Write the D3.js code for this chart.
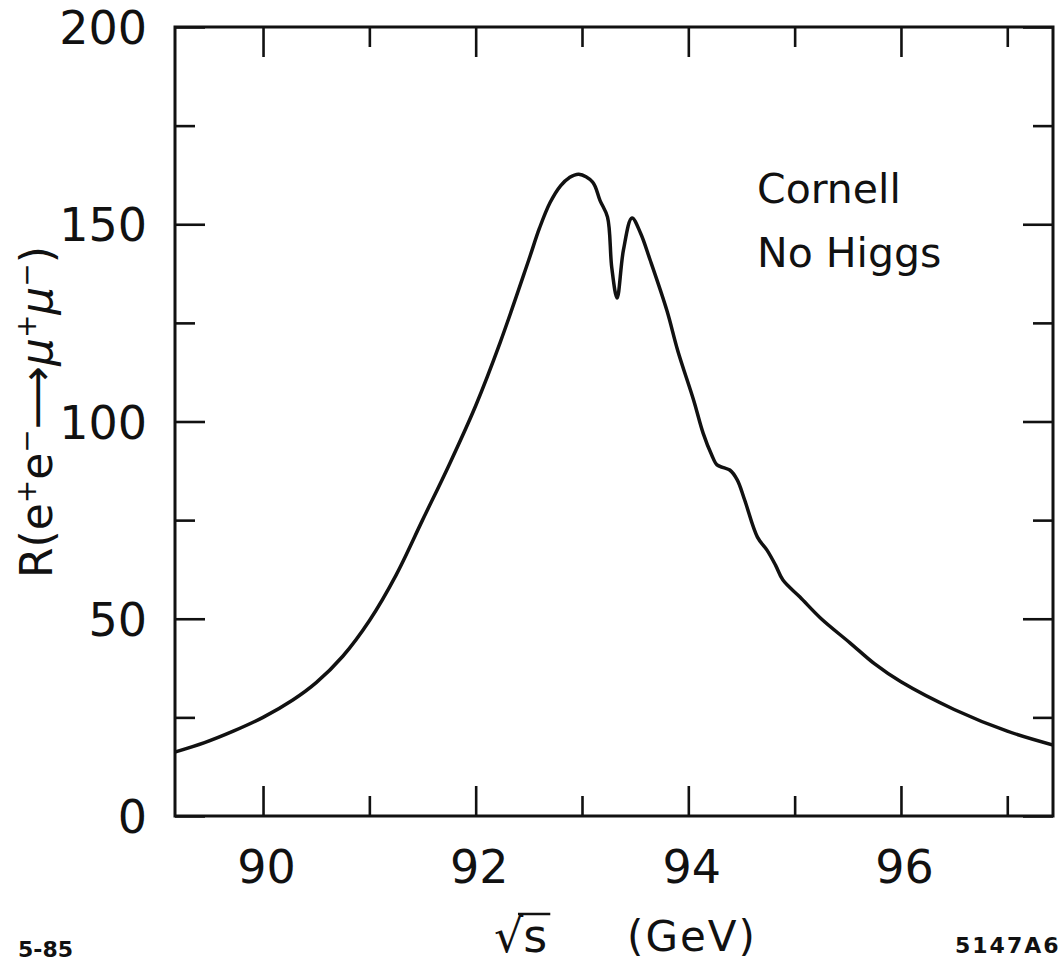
<!DOCTYPE html>
<html>
<head>
<meta charset="utf-8">
<script src="https://cdn.jsdelivr.net/npm/d3@7"></script>
<style>
  html, body { margin: 0; padding: 0; background: #fff; }
  svg { display: block; }
  text { font-family: "DejaVu Sans", "Liberation Sans", sans-serif; fill: #111; }
</style>
</head>
<body>
<script>
// sqrt(s) in GeV
var energy = [89.17, 89.45, 89.72, 90.0, 90.28, 90.5, 90.75, 91.0, 91.25, 91.5,
  91.75, 92.0, 92.23, 92.5, 92.6, 92.7, 92.8, 92.88, 92.97, 93.1,
  93.17, 93.24, 93.28, 93.33, 93.39, 93.47, 93.55, 93.64, 93.8, 93.9,
  94.05, 94.14, 94.22, 94.27, 94.33, 94.39, 94.46, 94.53, 94.65, 94.74,
  94.82, 94.89, 95.05, 95.25, 95.52, 95.75, 96.0, 96.5, 97.0, 97.43];
// R(e+e- -> mu+mu-)
var ratio = [16.2, 18.6, 21.5, 25, 29.4, 33.8, 40.5, 49.5, 61, 75,
  89, 104, 120, 141, 149, 155.5, 159.8, 161.8, 162.7, 160.7,
  156, 151.8, 139, 131.3, 143.5, 151.6, 147.8, 141, 128, 118,
  105.4, 97, 91.5, 89, 88.3, 87.7, 85.2, 80.1, 70.7, 67.4,
  63.6, 59.8, 55.5, 50, 43.9, 38.6, 34, 27, 21.5, 18];

// ticks
var xMajor = [90, 92, 94, 96];
var xMinor = [91, 93, 95, 97];
var yMajor = [0, 50, 100, 150, 200];
var yMinor = [25, 75, 125, 175];

var width = 1058, height = 963;
// plot box (note: "top" is taken by window.top)
var boxL = 175, boxR = 1053, boxT = 27, boxB = 816;

var svg = d3.select("body").append("svg")
  .attr("width", width)
  .attr("height", height);

svg.append("rect").attr("width", width).attr("height", height).attr("fill", "#fff");

var x = d3.scaleLinear().domain([89.172, 97.43]).range([boxL, boxR]);
var y = d3.scaleLinear().domain([0, 200]).range([boxB, boxT]);

// tick helper: inward ticks, no domain line
function ticks(axis, tr, vals, size, fmt) {
  var g = svg.append("g").attr("transform", tr)
    .call(axis.tickValues(vals).tickSize(-size).tickFormat(fmt || ""));
  g.select(".domain").remove();
  g.selectAll(".tick line").attr("stroke", "#111").attr("stroke-width", 2.6);
  return g;
}

var bx = ticks(d3.axisBottom(x), "translate(0," + boxB + ")", xMajor, 30, d3.format("d"));
ticks(d3.axisBottom(x), "translate(0," + boxB + ")", xMinor, 20);
ticks(d3.axisTop(x), "translate(0," + boxT + ")", xMajor, 30);
ticks(d3.axisTop(x), "translate(0," + boxT + ")", xMinor, 20);

var ly = ticks(d3.axisLeft(y), "translate(" + boxL + ",0)", yMajor, 30, d3.format("d"));
ticks(d3.axisLeft(y), "translate(" + boxL + ",0)", yMinor, 20);
ticks(d3.axisRight(y), "translate(" + boxR + ",0)", yMajor, 30);
ticks(d3.axisRight(y), "translate(" + boxR + ",0)", yMinor, 20);

bx.selectAll(".tick text")
  .attr("y", 67).attr("dy", null).attr("x", 3)
  .style("font-size", "46px").attr("fill", "#111");
ly.selectAll(".tick text")
  .attr("x", -28).attr("dy", "0.36em")
  .style("font-size", "46px").attr("fill", "#111");

// frame
svg.append("rect")
  .attr("x", boxL).attr("y", boxT)
  .attr("width", boxR - boxL).attr("height", boxB - boxT)
  .attr("fill", "none").attr("stroke", "#111").attr("stroke-width", 3);

// curve
svg.append("clipPath").attr("id", "plot")
  .append("rect").attr("x", boxL).attr("y", boxT)
  .attr("width", boxR - boxL).attr("height", boxB - boxT);

var line = d3.line()
  .x(function(d, i) { return x(energy[i]); })
  .y(function(d) { return y(d); })
  .curve(d3.curveCatmullRom.alpha(0.5));

svg.append("path")
  .datum(ratio)
  .attr("clip-path", "url(#plot)")
  .attr("d", line)
  .attr("fill", "none")
  .attr("stroke", "#111")
  .attr("stroke-width", 3.5)
  .attr("stroke-linejoin", "round");

// annotation
svg.append("text").attr("x", 757).attr("y", 203).style("font-size", "41px").text("Cornell");
svg.append("text").attr("x", 757).attr("y", 267).style("font-size", "41px").text("No Higgs");

// y title
var yt = svg.append("text")
  .attr("transform", "translate(52,412) rotate(-90)")
  .attr("text-anchor", "middle")
  .style("font-size", "44px");
yt.append("tspan").text("R(e");
yt.append("tspan").attr("dy", -16).style("font-size", "28px").text("+");
yt.append("tspan").attr("dy", 16).text("e");
yt.append("tspan").attr("dy", -16).style("font-size", "28px").text("\u2212");
yt.append("tspan").attr("dy", 16).text("\u27F6");
yt.append("tspan").style("font-style", "italic").text("\u03BC");
yt.append("tspan").attr("dy", -16).style("font-size", "28px").text("+");
yt.append("tspan").attr("dy", 16).style("font-style", "italic").text("\u03BC");
yt.append("tspan").attr("dy", -16).style("font-size", "28px").text("\u2212");
yt.append("tspan").attr("dy", 16).text(")");

// x title
var rs = svg.append("text").attr("x", 494).attr("y", 952).style("font-size", "46px");
rs.append("tspan").text("\u221A");
rs.append("tspan").text("s");
var sb = rs.node().getBBox();
svg.append("line")
  .attr("x1", sb.x + sb.width * 0.45).attr("x2", sb.x + sb.width + 3)
  .attr("y1", sb.y + 5).attr("y2", sb.y + 5)
  .attr("stroke", "#111").attr("stroke-width", 2.5);
svg.append("text").attr("x", 627).attr("y", 951).style("font-size", "42px")
  .attr("letter-spacing", 2).text("(GeV)");

// figure codes
svg.append("text").attr("x", 18).attr("y", 957)
  .style("font-size", "22px").style("font-weight", "bold").text("5-85");
svg.append("text").attr("x", 955).attr("y", 953)
  .style("font-size", "22px").style("font-weight", "bold")
  .attr("letter-spacing", 2).text("5147A6");
</script>
</body>
</html>
